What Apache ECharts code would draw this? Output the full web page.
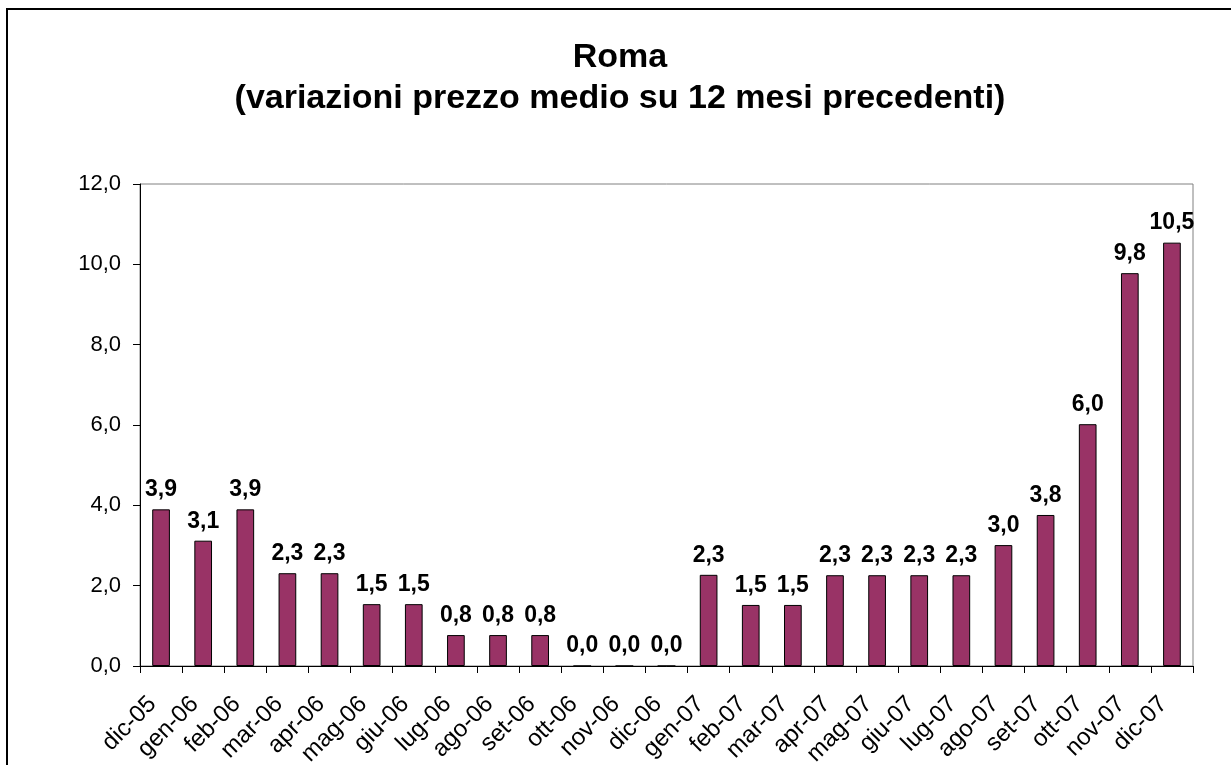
<!DOCTYPE html>
<html>
<head>
<meta charset="utf-8">
<script src="https://cdn.jsdelivr.net/npm/echarts@6/dist/echarts.min.js"></script>
<style>
html,body{margin:0;padding:0;background:#fff;}
#c{width:1231px;height:765px;}
</style>
</head>
<body>
<div id="c"></div>
<script>
const categories = ['dic-05','gen-06','feb-06','mar-06','apr-06','mag-06','giu-06','lug-06','ago-06','set-06','ott-06','nov-06','dic-06','gen-07','feb-07','mar-07','apr-07','mag-07','giu-07','lug-07','ago-07','set-07','ott-07','nov-07','dic-07'];
const values = [3.9,3.12,3.9,2.31,2.31,1.54,1.54,0.77,0.77,0.77,0,0,0,2.27,1.52,1.52,2.26,2.26,2.26,2.26,3.01,3.76,6.02,9.78,10.54];
const titleLines = ['Roma','(variazioni prezzo medio su 12 mesi precedenti)'];
const yMin = 0, yMax = 12, yStep = 2;

const fmt = v => Number(v).toFixed(1).replace('.', ',');
const FONT = '"Liberation Sans", Arial, sans-serif';

const chart = echarts.init(document.getElementById('c'), null, {renderer:'canvas'});
chart.setOption({
  animation: false,
  backgroundColor: '#fff',
  title: {
    text: titleLines.join('\n'),
    left: 615, textAlign: 'center', top: 32,
    textStyle: {fontFamily: FONT, fontSize: 34, fontWeight: 'bold', color: '#000', lineHeight: 41}
  },
  graphic: [{
    type: 'rect', z: 100,
    shape: {x: 7, y: 9, width: 1300, height: 800},
    style: {fill: 'none', stroke: '#000', lineWidth: 2}
  }],
  grid: {left: 140, right: 38, top: 184, bottom: 99, containLabel: false, outerBoundsMode: 'none',
    show: true, borderColor: '#808080', borderWidth: 1, backgroundColor: '#fff'},
  xAxis: {
    type: 'category', data: categories,
    axisLine: {lineStyle: {color: '#000', width: 1}},
    axisTick: {show: true, length: 7, lineStyle: {color: '#000'}},
    axisLabel: {interval: 0, rotate: 45, margin: 26, padding: [0, 12, 0, 0], fontFamily: FONT, fontSize: 24, color: '#000'}
  },
  yAxis: {
    type: 'value', min: yMin, max: yMax, interval: yStep,
    splitLine: {show: false},
    axisLine: {show: true, lineStyle: {color: '#000', width: 1}},
    axisTick: {show: true, length: 7, lineStyle: {color: '#000'}},
    axisLabel: {formatter: v => fmt(v), margin: 19, fontFamily: FONT, fontSize: 22, color: '#000'}
  },
  series: [{
    type: 'bar', data: values, barWidth: '42%',
    itemStyle: {color: '#993366', borderColor: '#000', borderWidth: 1},
    label: {show: true, position: 'top', distance: 8, formatter: p => fmt(p.value),
      fontFamily: FONT, fontSize: 23, fontWeight: 'bold', color: '#000'}
  }]
});
</script>
</body>
</html>
